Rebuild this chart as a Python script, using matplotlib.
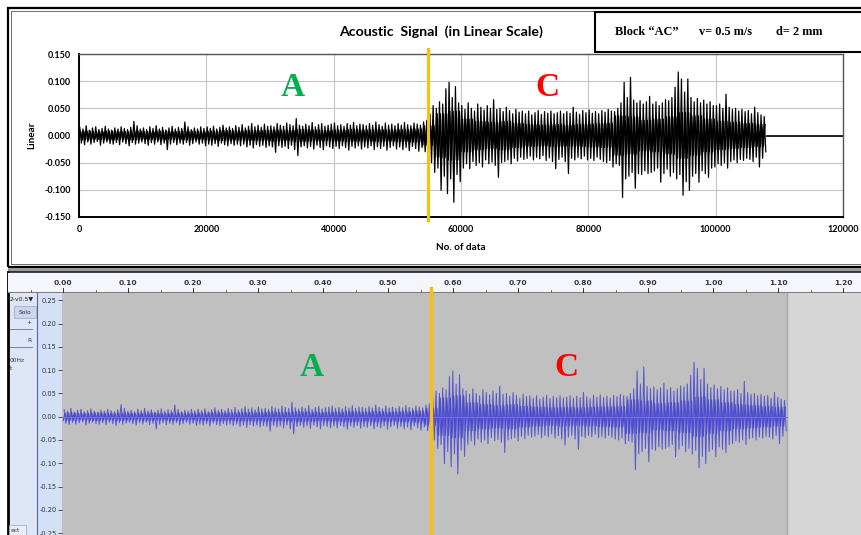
import numpy as np
import matplotlib
matplotlib.use("Agg")
import matplotlib.pyplot as plt
from matplotlib.patches import Rectangle
from matplotlib.transforms import blended_transform_factory

W, H = 861, 535

# ---------------- data ----------------
BIN = 500                      # samples per envelope bin
# positive peak of each 500-sample bin
sig_max = [
    0.015, 0.012, 0.018, 0.010, 0.014, 0.016, 0.011, 0.013, 0.017, 0.012,
    0.010, 0.014, 0.012, 0.016, 0.013, 0.011, 0.015, 0.026, 0.018, 0.012,
    0.014, 0.011, 0.016, 0.013, 0.018, 0.012, 0.015, 0.010, 0.014, 0.017,
    0.012, 0.015, 0.013, 0.025, 0.016, 0.011, 0.014, 0.012, 0.016, 0.013,
    0.016, 0.013, 0.017, 0.012, 0.015, 0.019, 0.014, 0.016, 0.013, 0.018,
    0.015, 0.020, 0.014, 0.017, 0.022, 0.016, 0.019, 0.015, 0.021, 0.017,
    0.018, 0.016, 0.022, 0.019, 0.017, 0.023, 0.020, 0.018, 0.031, 0.019,
    0.017, 0.021, 0.018, 0.024, 0.016, 0.020, 0.022, 0.017, 0.019, 0.021,
    0.023, 0.018, 0.020, 0.017, 0.022, 0.019, 0.024, 0.018, 0.021, 0.020,
    0.018, 0.022, 0.019, 0.025, 0.020, 0.017, 0.023, 0.019, 0.021, 0.018,
    0.022, 0.019, 0.024, 0.020, 0.018, 0.023, 0.021, 0.019, 0.025, 0.028,
    0.040, 0.055, 0.050, 0.062, 0.058, 0.086, 0.098, 0.070, 0.090, 0.060,
    0.055, 0.048, 0.060, 0.050, 0.045, 0.058, 0.052, 0.047, 0.055, 0.050,
    0.066, 0.048, 0.050, 0.044, 0.052, 0.046, 0.040, 0.048, 0.043, 0.045,
    0.040, 0.045, 0.038, 0.042, 0.046, 0.039, 0.044, 0.041, 0.045, 0.040,
    0.042, 0.045, 0.040, 0.044, 0.041, 0.052, 0.043, 0.039, 0.046, 0.042,
    0.047, 0.041, 0.044, 0.040, 0.046, 0.043, 0.048, 0.045, 0.044, 0.050,
    0.060, 0.098, 0.070, 0.107, 0.065, 0.060, 0.064, 0.058, 0.062, 0.072,
    0.058, 0.062, 0.055, 0.060, 0.066, 0.064, 0.070, 0.089, 0.117, 0.104,
    0.080, 0.104, 0.070, 0.062, 0.068, 0.060, 0.065, 0.058, 0.062, 0.055,
    0.055, 0.058, 0.050, 0.076, 0.052, 0.048, 0.050, 0.045, 0.048, 0.044,
    0.046, 0.040, 0.052, 0.042, 0.038, 0.035,
]
# negative peak of each 500-sample bin
sig_min = [
    -0.014, -0.017, -0.012, -0.016, -0.013, -0.011, -0.018, -0.014, -0.012, -0.015,
    -0.016, -0.013, -0.017, -0.012, -0.015, -0.019, -0.013, -0.016, -0.014, -0.012,
    -0.015, -0.018, -0.013, -0.016, -0.012, -0.017, -0.014, -0.026, -0.016, -0.013,
    -0.017, -0.014, -0.016, -0.013, -0.018, -0.015, -0.012, -0.016, -0.014, -0.019,
    -0.016, -0.018, -0.015, -0.020, -0.014, -0.017, -0.019, -0.015, -0.018, -0.016,
    -0.019, -0.016, -0.021, -0.018, -0.023, -0.017, -0.020, -0.018, -0.022, -0.019,
    -0.021, -0.031, -0.019, -0.022, -0.020, -0.024, -0.018, -0.026, -0.037, -0.021,
    -0.019, -0.023, -0.020, -0.025, -0.018, -0.022, -0.026, -0.019, -0.021, -0.024,
    -0.020, -0.024, -0.019, -0.022, -0.027, -0.020, -0.023, -0.019, -0.025, -0.021,
    -0.023, -0.019, -0.026, -0.021, -0.024, -0.020, -0.027, -0.022, -0.019, -0.025,
    -0.021, -0.026, -0.022, -0.028, -0.020, -0.024, -0.029, -0.022, -0.030, -0.034,
    -0.050, -0.068, -0.060, -0.101, -0.075, -0.107, -0.080, -0.123, -0.072, -0.085,
    -0.060, -0.052, -0.061, -0.048, -0.055, -0.050, -0.058, -0.045, -0.052, -0.049,
    -0.055, -0.077, -0.050, -0.048, -0.045, -0.052, -0.042, -0.047, -0.040, -0.044,
    -0.042, -0.038, -0.045, -0.040, -0.043, -0.037, -0.046, -0.041, -0.048, -0.061,
    -0.044, -0.040, -0.048, -0.070, -0.042, -0.045, -0.040, -0.043, -0.038, -0.045,
    -0.042, -0.046, -0.040, -0.044, -0.048, -0.050, -0.046, -0.058, -0.052, -0.055,
    -0.114, -0.080, -0.075, -0.068, -0.097, -0.070, -0.072, -0.065, -0.070, -0.068,
    -0.065, -0.060, -0.086, -0.070, -0.062, -0.075, -0.068, -0.080, -0.072, -0.110,
    -0.085, -0.101, -0.075, -0.070, -0.086, -0.065, -0.070, -0.077, -0.060, -0.058,
    -0.052, -0.055, -0.050, -0.060, -0.048, -0.045, -0.050, -0.044, -0.046, -0.042,
    -0.044, -0.048, -0.040, -0.058, -0.042, -0.030,
]
# half-width of the dense core of the trace, per 2000-sample segment
SEG = 2000
core = [
    0.008, 0.007, 0.008, 0.007, 0.008,
    0.007, 0.008, 0.007, 0.008, 0.007,
    0.008, 0.009, 0.008, 0.009, 0.009,
    0.010, 0.009, 0.011, 0.010, 0.009,
    0.010, 0.011, 0.010, 0.011, 0.010,
    0.011, 0.012, 0.018,
    0.040, 0.045,
    0.030, 0.026, 0.024, 0.026, 0.022,
    0.020, 0.019, 0.020, 0.019, 0.020,
    0.021, 0.022, 0.036, 0.034, 0.028,
    0.030, 0.034, 0.042, 0.036, 0.030,
    0.026, 0.024, 0.022, 0.020,
]
tail_samples = [108000, 120000]   # zero padding at the end of the Excel series
tail_values = [0.0, 0.0]
onset_sample = 54800              # boundary between zones A and C
SAMPLE_RATE = 97000               # Audacity time axis (estimated)

top_xticks = [0, 20000, 40000, 60000, 80000, 100000, 120000]
top_yticks = [0.150, 0.100, 0.050, 0.000, -0.050, -0.100, -0.150]
ruler_ticks = [0.00, 0.10, 0.20, 0.30, 0.40, 0.50, 0.60, 0.70, 0.80, 0.90, 1.00, 1.10, 1.20]
ruler_minor = [-0.05, 0.05, 0.15, 0.25, 0.35, 0.45, 0.55, 0.65, 0.75, 0.85, 0.95, 1.05, 1.15, 1.25]
bot_yticks = [0.25, 0.20, 0.15, 0.10, 0.05, 0.00, -0.05, -0.10, -0.15, -0.20, -0.25]

# peak trace: alternate max / min of every bin
n = len(sig_max)
idx = np.arange(n) * BIN
xs = np.empty(2 * n)
ys = np.empty(2 * n)
xs[0::2] = idx + BIN * 0.25
xs[1::2] = idx + BIN * 0.75
ys[0::2] = sig_max
ys[1::2] = sig_min
end_sample = n * BIN

# core trace: alternate +core / -core of the segment each bin belongs to
core = np.array(core)
cb = core[idx // SEG]
cx = np.empty(2 * n)
cy = np.empty(2 * n)
cx[0::2] = idx
cx[1::2] = idx + BIN * 0.5
cy[0::2] = -cb
cy[1::2] = cb

# ---------------- figure ----------------
fig = plt.figure(figsize=(W / 100, H / 100), dpi=100)
fig.patch.set_facecolor("white")


def ax_at(l, t, r, b, **kw):
    return fig.add_axes([l / W, 1 - b / H, (r - l) / W, (b - t) / H], **kw)


def ftext(x, y, s, **kw):
    return fig.text(x / W, 1 - y / H, s, **kw)


def frect(x0, y0, x1, y1, **kw):
    r = Rectangle((x0 / W, 1 - y1 / H), (x1 - x0) / W, (y1 - y0) / H,
                  transform=fig.transFigure, **kw)
    fig.add_artist(r)
    return r


def fline(xa, ya, **kw):
    fig.add_artist(plt.Line2D([v / W for v in xa], [1 - v / H for v in ya],
                              transform=fig.transFigure, **kw))


SANS = ["Lato", "DejaVu Sans"]
SERIF = ["Liberation Serif", "DejaVu Serif"]

# ---------- top panel (Excel chart) ----------
frect(8, 8, 875, 267, fill=False, ec="black", lw=1.6, zorder=-2)
frect(11, 11, 875, 264, fill=False, ec="#555555", lw=0.6, zorder=-2)
frect(595, 12, 875, 52, fc="white", ec="black", lw=1.5, zorder=3)

ftext(615, 32, "Block \u201cAC\u201d", family=SERIF, fontweight="bold", fontsize=8.8,
      va="center", ha="left", zorder=4)
ftext(699, 32, "v= 0.5 m/s", family=SERIF, fontweight="bold", fontsize=8.8,
      va="center", ha="left", zorder=4)
ftext(776, 32, "d= 2 mm", family=SERIF, fontweight="bold", fontsize=8.8,
      va="center", ha="left", zorder=4)
ftext(441, 32, "Acoustic  Signal  (in Linear Scale)", family=SANS, fontweight="bold",
      fontsize=10.2, va="center", ha="center")

ax = ax_at(79, 54, 843, 217)
ax.set_zorder(1)
ax.set_facecolor("white")
ax.plot(cx, cy, color="black", lw=1.0, zorder=2)
ax.plot(xs, ys, color="black", lw=0.9, zorder=2)
ax.plot(tail_samples, tail_values, color="black", lw=1.2, zorder=2)
ax.set_xlim(top_xticks[0], top_xticks[-1])
ax.set_ylim(top_yticks[-1], top_yticks[0])
ax.set_xticks(top_xticks)
ax.set_xticklabels([str(v) for v in top_xticks])
ax.set_yticks(top_yticks)
ax.set_yticklabels([f"{v:.3f}" for v in top_yticks])
ax.grid(True, color="#c4c4c4", lw=0.8)
ax.set_axisbelow(True)
ax.tick_params(length=0, labelsize=6.5, pad=6)
for lab in ax.get_xticklabels() + ax.get_yticklabels():
    lab.set_fontweight("bold")
    lab.set_family(SANS)
for s in ("left", "bottom"):
    ax.spines[s].set_color("black")
    ax.spines[s].set_linewidth(1.4)
for s in ("top", "right"):
    ax.spines[s].set_color("#555555")
    ax.spines[s].set_linewidth(1.0)
ax.set_xlabel("No. of data", family=SANS, fontweight="bold", fontsize=7.2, labelpad=6)
ax.set_ylabel("Linear", family=SANS, fontweight="bold", fontsize=7.2, labelpad=6)
tr = blended_transform_factory(ax.transData, ax.transAxes)
ax.plot([onset_sample, onset_sample], [-0.02, 1.03], transform=tr, color="#FFC000",
        lw=2.2, clip_on=False, zorder=5)

ftext(293, 87, "A", family=SERIF, fontweight="bold", fontsize=24, color="#00B050",
      ha="center", va="center", zorder=6)
ftext(547, 87, "C", family=SERIF, fontweight="bold", fontsize=24, color="#FF0000",
      ha="center", va="center", zorder=6)

# ---------- bottom panel (Audacity screenshot) ----------
frect(8, 268, 875, 272, fc="#9a9a9a", ec="none", zorder=-2)
frect(8, 272, 875, 540, fc="#f4f6fb", ec="none", zorder=-2)
frect(9, 293, 37, 540, fc="#dde5f7", ec="none", zorder=-1)
frect(37, 293, 62, 540, fc="#d4e0f6", ec="none", zorder=-1)
fline([8, 8], [272, 540], color="black", lw=2.0, zorder=-0.5)
fline([8, 875], [272, 272], color="#222222", lw=1.2, zorder=-0.5)
fline([37, 37], [293, 540], color="#5a6a8a", lw=0.8, zorder=-0.5)

# ruler
t_left = -(63.3 - 8) / 650
t_right = (861 - 63.3) / 650
rax = ax_at(8, 273, 861, 293)
rax.set_zorder(1)
rax.set_facecolor("#f4f6fb")
rax.set_xlim(t_left, t_right)
rax.set_ylim(0, 1)
for s in rax.spines.values():
    s.set_visible(False)
rax.axhline(0.0, color="#7f7f7f", lw=1.5)
rax.set_xticks([])
rax.set_yticks([])
for t in ruler_ticks:
    rax.plot([t, t], [0.05, 0.25], color="#333333", lw=0.7)
    rax.text(t, 0.52, f"{t:.2f}", ha="center", va="center", fontsize=5.4,
             fontweight="bold", color="#333344", family=["DejaVu Sans"])
for t in ruler_minor:
    rax.plot([t, t], [0.05, 0.17], color="#555555", lw=0.6)

# track control panel
ftext(9.5, 299, "2-v0.5\u25bc", fontsize=4.4, va="center", ha="left", color="#222222")
frect(14, 306, 36, 318, fc="#cbd6ee", ec="#9aa6c0", lw=0.5, zorder=0)
ftext(25, 312, "Solo", fontsize=4.2, va="center", ha="center", color="#333333")
ftext(29, 323, "+", fontsize=4.2, va="center", ha="center", color="#333333")
fline([10, 32], [329, 329], color="#667799", lw=0.6)
ftext(29, 341, "R", fontsize=4.2, va="center", ha="center", color="#333333")
fline([10, 32], [347, 347], color="#667799", lw=0.6)
ftext(9.5, 360, "00Hz", fontsize=4.2, va="center", ha="left", color="#333333")
ftext(9.5, 368, "t", fontsize=4.2, va="center", ha="left", color="#333333")
frect(9, 525, 26, 540, fc="#e8edf8", ec="#9aa6c0", lw=0.5, zorder=0)
ftext(11, 531, "ect", fontsize=4.2, va="center", ha="left", color="#333333")

# waveform area
PXU = 466.0  # pixels per unit amplitude
bax = ax_at(62, 293, 861, 535)
bax.set_zorder(1)
bax.set_xlim((62 - 63.3) / 650, t_right)
bax.set_ylim(-(535 - 416.7) / PXU, (416.7 - 293) / PXU)
bax.set_facecolor("#c0c0c0")
clip_end = end_sample / SAMPLE_RATE
bax.axvspan(clip_end, t_right, color="#d6d6d6", lw=0, zorder=0.5)
bax.axvline(clip_end, color="#a8a8a8", lw=1.0, zorder=0.6)
bax.plot(cx / SAMPLE_RATE, cy, color="#3a3ad0", lw=0.9, alpha=0.8, zorder=1.5)
bax.plot(xs / SAMPLE_RATE, ys, color="#4646d2", lw=0.75, alpha=0.85, zorder=2)
bax.plot([0, clip_end], [0, 0], color="#7a7a9a", lw=0.7, zorder=2.5)
bax.set_yticks(bot_yticks)
bax.set_yticklabels([f"{v:.2f}" for v in bot_yticks])
bax.set_xticks([])
bax.tick_params(axis="y", direction="out", length=3, width=0.6, pad=1,
                labelsize=4.8, colors="#333333")
for s in bax.spines.values():
    s.set_visible(False)
trb = blended_transform_factory(bax.transData, bax.transAxes)
bax.plot([onset_sample / SAMPLE_RATE] * 2, [0.0, 1.02], transform=trb, color="#FFC000",
         lw=2.4, clip_on=False, zorder=5)

ftext(312, 367, "A", family=SERIF, fontweight="bold", fontsize=24, color="#00B050",
      ha="center", va="center", zorder=6)
ftext(566, 368, "C", family=SERIF, fontweight="bold", fontsize=24, color="#FF0000",
      ha="center", va="center", zorder=6)

fig.savefig("out.png", dpi=100)
